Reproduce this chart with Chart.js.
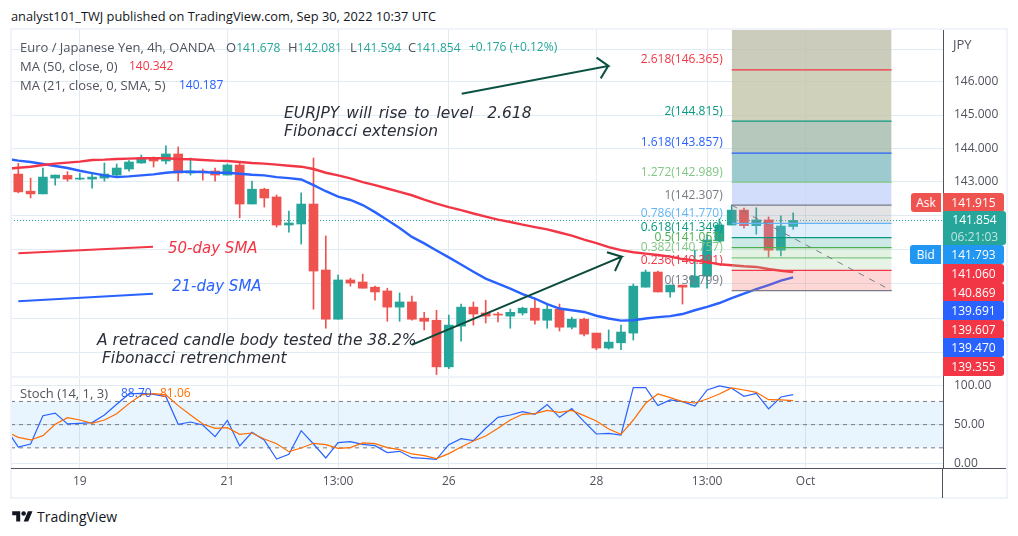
<!DOCTYPE html>
<html>
<head>
<meta charset="utf-8">
<title>EURJPY 4h</title>
<script src="https://cdn.jsdelivr.net/npm/chart.js@4/dist/chart.umd.min.js"></script>
<style>
  html, body { margin: 0; padding: 0; background: #fff; }
  body { width: 1018px; height: 536px; position: relative; overflow: hidden; font-family: "Open Sans", sans-serif; }
  canvas { position: absolute; }
  .t { position: absolute; white-space: pre; font-size: 13px; line-height: 16px; color: #50535e; }
  .num { font-size: 12px; color: #26a69a; }
  .note { position: absolute; white-space: pre; font-family: "DejaVu Sans", sans-serif; font-size: 15.5px; line-height: 18px; font-style: italic; color: #2a2e39; }
  .tag { position: absolute; color: #fff; font-size: 12px; line-height: 19px; text-align: center; border-radius: 0 3px 3px 0; }
  .rule { position: absolute; }
</style>
</head>
<body>
<canvas id="graficoPreco" width="995" height="347" style="left:11px;top:30px"></canvas>
<canvas id="graficoStoch" width="995" height="121" style="left:11px;top:377px"></canvas>

<!-- moldura -->
<div class="rule" style="left:10px;top:28px;width:997px;height:2px;background:#f0f3fa"></div>
<div class="rule" style="left:10px;top:28px;width:2px;height:471px;background:#f0f3fa"></div>
<div class="rule" style="left:1006px;top:28px;width:2px;height:471px;background:#f0f3fa"></div>
<div class="rule" style="left:10px;top:497px;width:998px;height:2px;background:#f0f3fa"></div>
<div class="rule" style="left:11px;top:376px;width:931px;height:2px;background:#f0f3fa"></div>
<div class="rule" style="left:942px;top:468px;width:1px;height:30px;background:#50535e"></div>
<div class="rule" style="left:11px;top:468px;width:995px;height:1px;background:#50535e"></div>

<!-- textos -->
<div class="t" style="left:11px;top:8px;color:#131722;font-size:12.8px">analyst101_TWJ published on TradingView.com, Sep 30, 2022 10:37 UTC</div>
<div class="t" style="left:20px;top:39px">Euro / Japanese Yen, 4h, OANDA</div>
<div class="t" style="left:226px;top:39px">O<span class="num">141.678</span></div>
<div class="t" style="left:288px;top:39px">H<span class="num">142.081</span></div>
<div class="t" style="left:350px;top:39px">L<span class="num">141.594</span></div>
<div class="t" style="left:408px;top:39px">C<span class="num">141.854</span></div>
<div class="t num" style="left:469px;top:39px">+0.176 (+0.12%)</div>
<div class="t" style="left:20px;top:58px">MA (50, close, 0)</div>
<div class="t num" style="left:129px;top:58px;color:#f23645">140.342</div>
<div class="t" style="left:20px;top:77px">MA (21, close, 0, SMA, 5)</div>
<div class="t num" style="left:179px;top:77px;color:#2962ff">140.187</div>
<div class="t" style="left:20px;top:385px">Stoch (14, 1, 3)</div>
<div class="t num" style="left:121px;top:385px;color:#2962ff">88.70</div>
<div class="t num" style="left:160px;top:385px;color:#ff6d00">81.06</div>
<div class="t" style="left:953px;top:36px">JPY</div>

<div class="note" style="left:284px;top:104px"><span style="word-spacing:2px">EURJPY will rise to level  2.618</span>
Fibonacci extension</div>
<div class="note" style="left:168px;top:239px;color:#f23645;font-size:15px">50-day SMA</div>
<div class="note" style="left:172px;top:277px;color:#2962ff;font-size:15px">21-day SMA</div>
<div class="note" style="left:97px;top:331px">A retraced candle body tested the 38.2%
 Fibonacci retrenchment</div>

<!-- etiquetas do eixo de preço -->
<div class="tag" style="left:911px;top:193px;width:30px;height:19px;background:#ef5350;border-radius:3px 0 0 3px">Ask</div>
<div class="tag" style="left:943px;top:193px;width:61px;height:19px;background:#ef5350">141.915</div>
<div class="tag" style="left:943px;top:211px;width:63px;height:34px;background:#26a69a;line-height:17px">141.854<br><span style="opacity:.7">06:21:03</span></div>
<div class="tag" style="left:910px;top:245px;width:31px;height:19px;background:#2196f3;border-radius:3px 0 0 3px">Bid</div>
<div class="tag" style="left:943px;top:245px;width:61px;height:19px;background:#2196f3">141.793</div>
<div class="tag" style="left:943px;top:264px;width:61px;height:19px;background:#f23645">141.060</div>
<div class="tag" style="left:943px;top:283px;width:61px;height:19px;background:#f23645">140.869</div>
<div class="tag" style="left:943px;top:301px;width:61px;height:19px;background:#2962ff">139.691</div>
<div class="tag" style="left:943px;top:320px;width:61px;height:19px;background:#f23645">139.607</div>
<div class="tag" style="left:943px;top:338px;width:61px;height:19px;background:#2962ff">139.470</div>
<div class="tag" style="left:943px;top:357px;width:61px;height:19px;background:#f23645">139.355</div>

<!-- logotipo -->
<svg style="position:absolute;left:12px;top:509px" width="21" height="16" viewBox="0 0 36 28">
  <path fill="#131722" d="M14 22H7V11H0V4h14v18zM28 22h-8l7.5-18h8L28 22z"/><circle fill="#131722" cx="20" cy="8" r="4"/>
</svg>
<div class="t" style="left:37px;top:509px;color:#131722;font-size:14px">TradingView</div>

<script>
// ================== DADOS ==================
// velas de 4h: a primeira fica fora da área visível, à esquerda
const abertura = [143.20,143.23,142.72,142.64,143.11,143.19,143.08,143.08,143.11,143.20,143.38,143.56,143.71,143.62,143.83,143.26,143.32,143.32,143.20,143.50,142.34,142.78,142.55,141.72,141.75,142.34,140.40,138.97,140.11,140.05,139.90,139.79,139.32,139.47,139.00,138.94,137.60,138.77,139.32,139.15,139.12,139.06,139.15,139.29,138.94,139.26,138.74,138.97,138.57,138.14,138.29,138.57,139.90,140.34,139.76,139.96,139.90,140.22,141.25,141.72,142.16,141.70,141.87,140.98,141.678];
const maxima = [143.40,143.55,143.11,143.41,143.20,143.30,143.25,143.25,143.56,143.53,143.63,143.80,143.74,144.07,144.04,143.71,143.38,143.41,143.53,143.59,143.02,142.81,142.61,142.13,142.67,143.71,141.40,140.25,140.16,140.28,139.93,139.87,139.73,139.64,139.17,139.23,139.09,139.41,139.47,139.52,139.17,139.26,139.32,139.55,139.41,139.41,139.03,139.00,138.57,138.66,138.80,139.99,140.40,140.37,139.96,139.96,140.98,141.43,141.90,142.31,142.22,142.23,141.96,141.99,142.081];
const minimas = [143.10,142.67,142.52,142.64,142.90,143.02,143.06,142.81,143.02,143.13,143.32,143.55,143.44,143.53,143.02,143.20,143.05,143.02,143.20,141.93,142.34,142.25,141.66,141.51,141.16,139.26,138.71,138.97,139.93,139.87,139.52,138.91,138.91,138.94,138.66,137.38,137.55,138.34,138.80,138.86,138.89,138.71,139.09,138.83,138.71,138.63,138.69,138.49,138.09,138.11,138.09,138.37,139.90,139.76,139.61,139.41,139.90,139.87,141.22,141.72,141.63,141.45,140.78,140.81,141.594];
const fechamento = [143.23,142.70,142.64,143.14,143.20,143.08,143.11,143.14,143.23,143.41,143.59,143.71,143.62,143.83,143.26,143.32,143.29,143.20,143.50,142.34,142.78,142.52,141.72,141.78,142.34,140.37,138.97,140.11,140.02,139.87,139.76,139.32,139.47,138.97,138.91,137.60,138.80,139.32,139.12,139.06,139.09,139.17,139.29,138.94,139.26,138.74,138.97,138.54,138.14,138.31,138.60,139.93,140.34,139.76,139.96,139.90,140.22,141.28,141.72,142.16,141.70,141.87,140.98,141.69,141.854];

// médias móveis
const ma50 = [143.38,143.42,143.45,143.50,143.54,143.57,143.60,143.65,143.66,143.68,143.69,143.70,143.70,143.70,143.68,143.67,143.65,143.63,143.62,143.59,143.56,143.54,143.51,143.48,143.45,143.38,143.27,143.19,143.10,142.99,142.90,142.80,142.70,142.60,142.47,142.35,142.25,142.16,142.06,141.97,141.88,141.81,141.73,141.66,141.59,141.50,141.41,141.29,141.19,141.07,140.98,140.92,140.88,140.84,140.79,140.72,140.68,140.63,140.57,140.54,140.51,140.49,140.43,140.38,140.342];
const ma21 = [143.69,143.63,143.59,143.53,143.47,143.41,143.33,143.26,143.19,143.14,143.16,143.19,143.22,143.27,143.30,143.30,143.29,143.27,143.27,143.24,143.21,143.19,143.14,143.11,143.07,142.90,142.72,142.56,142.46,142.31,142.10,141.87,141.63,141.37,141.18,140.97,140.77,140.56,140.35,140.15,140.00,139.86,139.70,139.57,139.41,139.28,139.23,139.18,139.07,138.99,138.93,138.94,138.99,139.03,139.06,139.12,139.23,139.33,139.44,139.58,139.71,139.84,139.96,140.09,140.187];

// estocástico
const stochK = [45,21,25,61.6,65,50.9,51.7,52.6,62.5,76.3,89.7,90.5,89.2,86.2,50.4,53.4,49.6,34.5,55.6,22.4,40,30,5.6,11.6,42.2,25,6.9,26.7,28,24.6,22.8,13.8,15.5,7.3,6.5,5.2,24.1,31.9,29.3,45.3,59.5,62.5,66.8,63.4,75.9,59.5,70.7,53.9,37.9,38.8,36.6,97.8,97.8,74.6,81.9,79.7,74.1,94.8,100,97,86.6,90.5,70.3,85.8,88.7];
const stochD = [41,33.6,30.2,35.8,50.4,59,56,51.7,56,64.2,77.2,88.4,90,88.4,74.6,62.5,50.9,45.3,46.1,37.5,39.2,31.5,25.4,15.1,19.8,25.9,24.1,19.4,20.3,26.3,25.4,20.3,17.7,12.1,9.9,6,12.5,21.1,28.9,35.3,45.3,56,63.4,64.2,68.5,65.9,68.5,61.6,54.7,44.4,37.5,56,77.6,89.7,84.9,79.7,78,83.2,89.7,97.4,94.8,91.8,82.3,81.9,81.06];

// eixos
const xTickPos = [6, 18, 27, 36, 48, 57, 65];
const xTickLabels = ['19', '21', '13:00', '26', '28', '13:00', 'Oct'];
const precoTicks = [138, 139, 140, 141, 142, 143, 144, 145, 146, 147];
const precoTicksVisiveis = [143, 144, 145, 146];
const stochTicks = [0, 50, 100];
const stochNiveis = [20, 50, 80];

// níveis de Fibonacci
const fibNomes = ['0', '0.236', '0.382', '0.5', '0.618', '0.786', '1', '1.272', '1.618', '2', '2.618', '3.618'];
const fibPrecos = [139.799, 140.391, 140.757, 141.053, 141.349, 141.770, 142.307, 142.989, 143.857, 144.815, 146.365, 148.873];
const fibCores = ['#787b86', '#f23645', '#81c784', '#4caf50', '#089981', '#64b5f6', '#787b86', '#81c784', '#2962ff', '#089981', '#f23645', '#9c27b0'];
const fibFundos = [null, 'rgba(243,95,91,.25)', 'rgba(155,207,155,.25)', 'rgba(147,203,147,.25)', 'rgba(55,167,151,.25)', 'rgba(127,191,243,.25)', 'rgba(143,143,155,.25)', 'rgba(199,212,250,.8)', 'rgba(131,189,195,.8)', 'rgba(164,185,170,.8)', 'rgba(195,197,170,.8)', 'rgba(191,191,173,.8)'];
const fibInicio = 59, fibFim = 72;

// desenhos sobre o gráfico, em [vela, preço]
const setaAlta = [[37.05, 145.64], [48.97, 146.49], [48.02, 146.74], [48.97, 146.49], [48.35, 146.11]];
const setaTeste = [[32.98, 138.23], [50.06, 140.79], [48.86, 140.92], [50.06, 140.79], [49.51, 140.37]];
const traco50 = [[1, 140.89], [11.95, 141.08]];
const traco21 = [[1, 139.49], [11.95, 139.71]];

const precoAtual = 141.854;
const xMin = 0.4065, xMax = 76.18;

// ================== CONFIGURAÇÃO ==================
const corAlta = '#26a69a', corBaixa = '#ef5350', corGrade = '#e1ecf2', corTexto = '#50535e';
const fonteEixo = { family: 'Open Sans', size: 12 };
const pontos = lista => lista.map(p => ({ x: p[0], y: p[1] }));
const corVela = abertura.map((a, i) => fechamento[i] >= a ? corAlta : corBaixa);

function linha(data, cor, largura, ordem, extra) {
    return Object.assign({ type: 'line', data, borderColor: cor, borderWidth: largura, pointRadius: 0, tension: 0, fill: false, order: ordem }, extra);
}

const eixoX = mostrarRotulos => ({
    type: 'linear',
    offset: false,
    min: xMin,
    max: xMax,
    afterBuildTicks: s => { s.ticks = xTickPos.map(v => ({ value: v })); },
    afterFit: s => { s.height = mostrarRotulos ? 29.5 : 0; s.paddingLeft = 0; s.paddingRight = 0; },
    grid: { offset: false, color: corGrade, drawTicks: false },
    border: { display: false },
    ticks: {
        display: mostrarRotulos, autoSkip: false, maxRotation: 0, padding: 6, color: corTexto, font: fonteEixo,
        callback: v => xTickLabels[xTickPos.indexOf(v)]
    }
});

const eixoY = (opcoes, valores, rotulo) => Object.assign({
    position: 'right',
    afterBuildTicks: s => { s.ticks = valores.map(v => ({ value: v })); },
    afterFit: s => { s.width = 63; s.paddingTop = 0; s.paddingBottom = 0; },
    grid: { color: corGrade, drawTicks: false },
    border: { color: corTexto },
    ticks: { autoSkip: false, padding: 11, color: corTexto, font: fonteEixo, callback: rotulo }
}, opcoes);

// Rótulos dos níveis de Fibonacci, presos às escalas do gráfico
const rotulosFib = {
    id: 'rotulosFib',
    afterDatasetsDraw(chart) {
        const { ctx, scales } = chart;
        ctx.save();
        ctx.font = '12px "Open Sans"';
        ctx.textAlign = 'right';
        ctx.textBaseline = 'middle';
        fibNomes.forEach((nome, i) => {
            if (fibPrecos[i] > scales.y.max) return;
            ctx.fillStyle = fibCores[i];
            ctx.fillText(nome + '(' + fibPrecos[i].toFixed(3) + ')', scales.x.getPixelForValue(fibInicio) - 9, scales.y.getPixelForValue(fibPrecos[i]) - 10);
        });
        ctx.restore();
    }
};

// ================== GRÁFICO DE PREÇO ==================
const datasetsPreco = [
    { type: 'bar', data: abertura.map((a, i) => ({ x: i, y: [minimas[i], maxima[i]] })), backgroundColor: corVela, barThickness: 1, grouped: false, order: 6 },
    { type: 'bar', data: abertura.map((a, i) => ({ x: i, y: [a, fechamento[i]] })), backgroundColor: corVela, barThickness: 9, minBarLength: 1, grouped: false, order: 5 },
    linha(ma50.map((v, i) => ({ x: i, y: v })), '#f23645', 2.4, 4),
    linha(ma21.map((v, i) => ({ x: i, y: v })), '#2962ff', 2.4, 4),
    linha(pontos([[xMin, precoAtual], [xMax, precoAtual]]), corAlta, 1.2, 7, { borderDash: [1, 2] })
];
fibPrecos.forEach((p, i) => {
    datasetsPreco.push(linha(pontos([[fibInicio, p], [fibFim, p]]), fibCores[i], 1.2, 3, {
        backgroundColor: fibFundos[i] || 'transparent',
        fill: i === 0 ? false : '-1'
    }));
});
datasetsPreco.push(
    linha(pontos([[fibInicio, fibPrecos[6]], [fibFim, fibPrecos[0]]]), '#787b86', 1, 2, { borderDash: [6, 6] }),
    linha(pontos(setaAlta), '#0c5244', 2, 1),
    linha(pontos(setaTeste), '#0c4a3c', 2, 1),
    linha(pontos(traco50), '#f23645', 2, 1),
    linha(pontos(traco21), '#2962ff', 2, 1)
);

const graficoPreco = new Chart(document.getElementById('graficoPreco').getContext('2d'), {
    data: { datasets: datasetsPreco },
    options: {
        responsive: false,
        animation: false,
        layout: { padding: 0 },
        plugins: { legend: { display: false }, tooltip: { enabled: false }, filler: { drawTime: 'beforeDatasetDraw' } },
        scales: {
            x: eixoX(false),
            y: eixoY({ type: 'logarithmic', min: 137.31, max: 147.587 }, precoTicks,
                v => precoTicksVisiveis.includes(v) ? v.toFixed(3) : '')
        }
    },
    plugins: [rotulosFib]
});

// ================== GRÁFICO ESTOCÁSTICO ==================
const datasetsStoch = stochNiveis.map((n, i) => linha(pontos([[xMin, n], [xMax, n]]), '#787b86', 1, 3, {
    borderDash: [4, 4],
    backgroundColor: 'rgba(33,150,243,.1)',
    fill: i === 2 ? 0 : false
}));
datasetsStoch.push(
    linha(stochK.map((v, i) => ({ x: i, y: v })), '#2962ff', 1.2, 2),
    linha(stochD.map((v, i) => ({ x: i, y: v })), '#ff6d00', 1.2, 1)
);

const graficoStoch = new Chart(document.getElementById('graficoStoch').getContext('2d'), {
    data: { datasets: datasetsStoch },
    options: {
        responsive: false,
        animation: false,
        layout: { padding: 0 },
        plugins: { legend: { display: false }, tooltip: { enabled: false } },
        scales: {
            x: eixoX(true),
            y: eixoY({ type: 'linear', min: -6.7, max: 111.6 }, stochTicks, v => v.toFixed(2))
        }
    }
});
</script>
</body>
</html>
